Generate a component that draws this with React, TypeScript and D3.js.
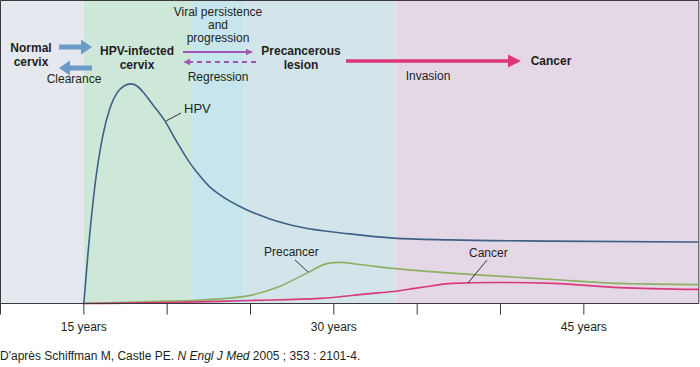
import React from "react";
import * as d3 from "d3";

// ages (years) and relative prevalence
const hpvAges = [15, 15.25, 15.67, 16.15, 16.57, 16.99, 17.41, 17.83, 18.19, 18.55, 19.15, 19.87, 20.59, 21.37, 21.97, 22.57, 23.17, 24.67, 26.17, 27.97, 30.97, 33.55, 36.97, 42.97, 51.9];
const hpvValues = [0, 16.8, 39.5, 56.2, 65.2, 70.2, 72.5, 73.2, 72.5, 70.5, 66.2, 60.8, 53.8, 46.8, 42.5, 38.8, 36.2, 31.5, 28.2, 25.5, 23.2, 21.8, 21.2, 20.8, 20.5];

const precancerAges = [15, 19.56, 21.36, 24.54, 26.58, 28.44, 29.58, 30.36, 31.56, 33.54, 38.16, 43.14, 47.16, 51.9];
const precancerValues = [0, 0.7, 1, 2.3, 5.3, 10.3, 13.3, 13.7, 13, 11.7, 9.7, 8, 6.7, 6.3];

const cancerAges = [15, 23.16, 24.96, 29.16, 32.16, 33.54, 35.16, 37.14, 39.54, 43.14, 47.16, 51.9];
const cancerValues = [0, 0.7, 1, 1.7, 3.3, 4, 5.3, 6.7, 7, 6.7, 5.3, 4.7];

// background phases
const phaseStarts = [10, 15, 21.5, 24.6, 33.7];
const phaseEnds = [15, 21.5, 24.6, 33.7, 51.9];
const phaseColors = ["#e5e8ef", "#cde8d9", "#c6e5ec", "#d3e5ea", "#e4d8e7"];

const tickAges = [10, 15, 20, 25, 30, 35, 40, 45];
const labelAges = [15, 30, 45];

const W = 700;
const H = 367;
const font = "'Liberation Sans', Arial, Helvetica, sans-serif";
const ink = "#231f20";

export default function App() {
  const x = d3.scaleLinear().domain([10, 52]).range([0.5, 700.5]);
  const y = d3.scaleLinear().domain([0, 100]).range([303.5, 3.5]);
  const plotRight = x(51.9);

  const line = d3
    .line<[number, number]>()
    .x((d) => x(d[0]))
    .y((d) => y(d[1]))
    .curve(d3.curveMonotoneX);

  const hpv = hpvAges.map((a, i) => [a, hpvValues[i]] as [number, number]);
  const pre = precancerAges.map((a, i) => [a, precancerValues[i]] as [number, number]);
  const can = cancerAges.map((a, i) => [a, cancerValues[i]] as [number, number]);

  return (
    <svg
      width={W}
      height={H}
      style={{ position: "absolute", left: 0, top: 0, background: "#fff" }}
      fontFamily={font}
    >
      <defs>
        <marker id="headPurple" viewBox="0 0 10 10" refX="9" refY="5" markerWidth="4" markerHeight="4" orient="auto">
          <path d="M0,0 L10,5 L0,10 z" fill="#a355b5" />
        </marker>
      </defs>

      {/* bandes de fond */}
      {phaseStarts.map((s, i) => (
        <rect
          key={i}
          x={x(s)}
          y={0.5}
          width={x(phaseEnds[i]) - x(s)}
          height={y(0) - 0.5}
          fill={phaseColors[i]}
        />
      ))}
      {/* cadre */}
      <path
        d={`M${x(10)},${y(0)} V0.5 H${plotRight} V${y(0)}`}
        fill="none"
        stroke="#3a3a3a"
        strokeWidth={1}
      />

      {/* courbes */}
      <path d={line(pre) ?? ""} fill="none" stroke="#8db062" strokeWidth={1.6} />
      <path d={line(can) ?? ""} fill="none" stroke="#d8397a" strokeWidth={1.6} />
      <path d={line(hpv) ?? ""} fill="none" stroke="#3f5f86" strokeWidth={1.6} />

      {/* axe */}
      <line x1={x(10)} x2={plotRight} y1={y(0)} y2={y(0)} stroke="#3a3a3a" />
      {tickAges.map((t) => (
        <line key={t} x1={x(t)} x2={x(t)} y1={y(0)} y2={y(0) + 11} stroke="#3a3a3a" />
      ))}
      {labelAges.map((t) => (
        <text key={t} x={x(t)} y={331} textAnchor="middle" fontSize={12} fill={ink}>
          {t} years
        </text>
      ))}

      {/* étiquettes des courbes */}
      <line x1={166} y1={121} x2={181} y2={113} stroke={ink} strokeWidth={0.9} />
      <text x={184} y={113} fontSize={13} fill={ink}>HPV</text>
      <line x1={295} y1={260} x2={308} y2={272} stroke={ink} strokeWidth={0.9} />
      <text x={264} y={256} fontSize={12} fill={ink}>Precancer</text>
      <line x1={487} y1={260} x2={468} y2={283} stroke={ink} strokeWidth={0.9} />
      <text x={469} y={257} fontSize={12} fill={ink}>Cancer</text>

      {/* schéma du haut */}
      <g fontSize={12} fill={ink} textAnchor="middle">
        <text x={31} y={52} fontWeight="bold">Normal</text>
        <text x={31} y={65.5} fontWeight="bold">cervix</text>
        <text x={74} y={83}>Clearance</text>
        <text x={137} y={55} fontWeight="bold">HPV-infected</text>
        <text x={137} y={68.5} fontWeight="bold">cervix</text>
        <text x={218} y={16}>Viral persistence</text>
        <text x={218} y={29}>and</text>
        <text x={218} y={42}>progression</text>
        <text x={218} y={81}>Regression</text>
        <text x={301} y={55} fontWeight="bold">Precancerous</text>
        <text x={301} y={68.5} fontWeight="bold">lesion</text>
        <text x={428} y={80}>Invasion</text>
        <text x={551} y={65} fontWeight="bold">Cancer</text>
      </g>

      {/* flèches bleues */}
      <path d="M59,44.5 H81 V39.5 L92,47 L81,54.5 V49.5 H59 z" fill="#6b9bc6" />
      <path d="M92,65.5 H70 V60.5 L59,68 L70,75.5 V70.5 H92 z" fill="#6b9bc6" />
      {/* flèches violettes */}
      <line x1={183} y1={52} x2={252} y2={52} stroke="#a355b5" strokeWidth={1.8} markerEnd="url(#headPurple)" />
      <line x1={256} y1={62} x2={184} y2={62} stroke="#a355b5" strokeWidth={1.8} strokeDasharray="5,4" markerEnd="url(#headPurple)" />
      {/* flèche rose */}
      <path d="M346,59.3 H508 V54.5 L521,61 L508,67.5 V62.7 H346 z" fill="#dc3579" />

      {/* source */}
      <text x={0} y={360} fontSize={12} fill={ink}>
        D'après Schiffman M, Castle PE. <tspan fontStyle="italic">N Engl J Med</tspan> 2005 ; 353 : 2101-4.
      </text>
    </svg>
  );
}
